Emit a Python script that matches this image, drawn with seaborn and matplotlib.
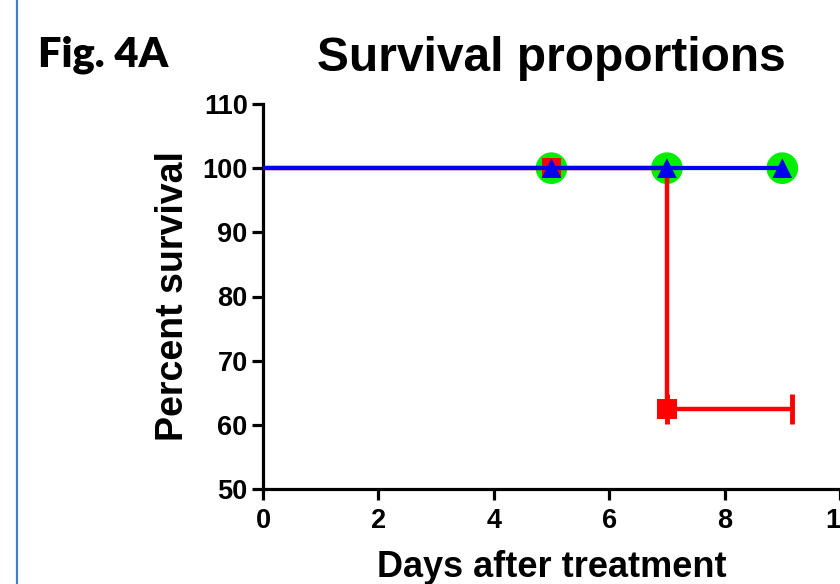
import numpy as np
import pandas as pd
import matplotlib
matplotlib.use("Agg")
import matplotlib.pyplot as plt
import seaborn as sns
from matplotlib.lines import Line2D

# survival curves (day, percent)
red_days = [0, 5, 7, 9.16]
red_surv = [100, 100, 62.5, 62.5]
blue_days = [0, 5, 7, 9]
blue_surv = [100, 100, 100, 100]
green_days = [0, 5, 7, 9]
green_surv = [100, 100, 100, 100]

# marker positions
green_pts_x = [5, 7, 9]
green_pts_y = [100, 100, 100]
red_pts_x = [5, 7]
red_pts_y = [100, 62.5]
red_cens_x = [7, 9.16]
red_cens_y = [62.5, 62.5]
blue_pts_x = [5, 7, 9]
blue_pts_y = [100, 100, 100]

xticks = [0, 2, 4, 6, 8, 10]
yticks = [50, 60, 70, 80, 90, 100, 110]

sns.set_style("ticks")
plt.rcParams['font.family'] = ['Liberation Sans', 'DejaVu Sans']
plt.rcParams['font.weight'] = 'bold'
for k in ['text.color', 'axes.labelcolor', 'xtick.color', 'ytick.color']:
    plt.rcParams[k] = 'black'

fig = plt.figure(figsize=(8.4, 5.84), dpi=100)
ax = fig.add_axes([263/840, 1-489/584, 577/840, 385/584])

green_df = pd.DataFrame({'day': green_days, 'surv': green_surv})
red_df = pd.DataFrame({'day': red_days, 'surv': red_surv})
blue_df = pd.DataFrame({'day': blue_days, 'surv': blue_surv})

sns.lineplot(data=green_df, x='day', y='surv', ax=ax, color='#00ee00', lw=3,
             drawstyle='steps-post', zorder=2)
sns.scatterplot(x=green_pts_x, y=green_pts_y, ax=ax, color='#00ee00', s=520,
                marker='o', edgecolor='none', zorder=3)

sns.lineplot(data=red_df, x='day', y='surv', ax=ax, color='#ff0000', lw=3.2,
             drawstyle='steps-post', zorder=4)
sns.scatterplot(x=red_pts_x, y=red_pts_y, ax=ax, color='#ff0000', s=200,
                marker='s', edgecolor='none', zorder=5)
ax.plot(red_cens_x, red_cens_y, ls='none', marker='|', ms=21, mew=3.5,
        color='#ff0000', zorder=5)

sns.lineplot(data=blue_df, x='day', y='surv', ax=ax, color='#0000ee', lw=3,
             drawstyle='steps-post', zorder=6)
sns.scatterplot(x=blue_pts_x, y=blue_pts_y, ax=ax, color='#0000ee', s=200,
                marker='^', edgecolor='none', zorder=7)

ax.set_xlim(0, 10)
ax.set_ylim(50, 110)
ax.set_xticks(xticks)
ax.set_yticks(yticks)
sns.despine(ax=ax)
for s in ['left', 'bottom']:
    ax.spines[s].set_linewidth(2.3)
    ax.spines[s].set_color('black')
ax.tick_params(axis='both', length=8, width=2.3, color='black',
               labelcolor='black', labelsize=19.5, pad=3)
ax.tick_params(axis='x', pad=6)
for lab in ax.get_xticklabels() + ax.get_yticklabels():
    lab.set_fontweight('bold')

ax.set_xlabel('Days after treatment', fontsize=26, fontweight='bold',
              labelpad=11, color='black')
ax.set_ylabel('Percent survival', fontsize=27, fontweight='bold',
              labelpad=8, color='black')
ax.set_title('Survival proportions', fontsize=34.5, fontweight='bold',
             pad=24, color='black')
if ax.get_legend():
    ax.get_legend().remove()

fig.text(38/840, 1-66/584, 'Fig. 4A', fontsize=30, fontweight='heavy',
         family=['Lato', 'DejaVu Sans'], ha='left', va='baseline', color='black')
fig.add_artist(Line2D([17/840, 17/840], [0, 1], color='#3d80cc', lw=1.6))

fig.savefig('out.png', dpi=100)
